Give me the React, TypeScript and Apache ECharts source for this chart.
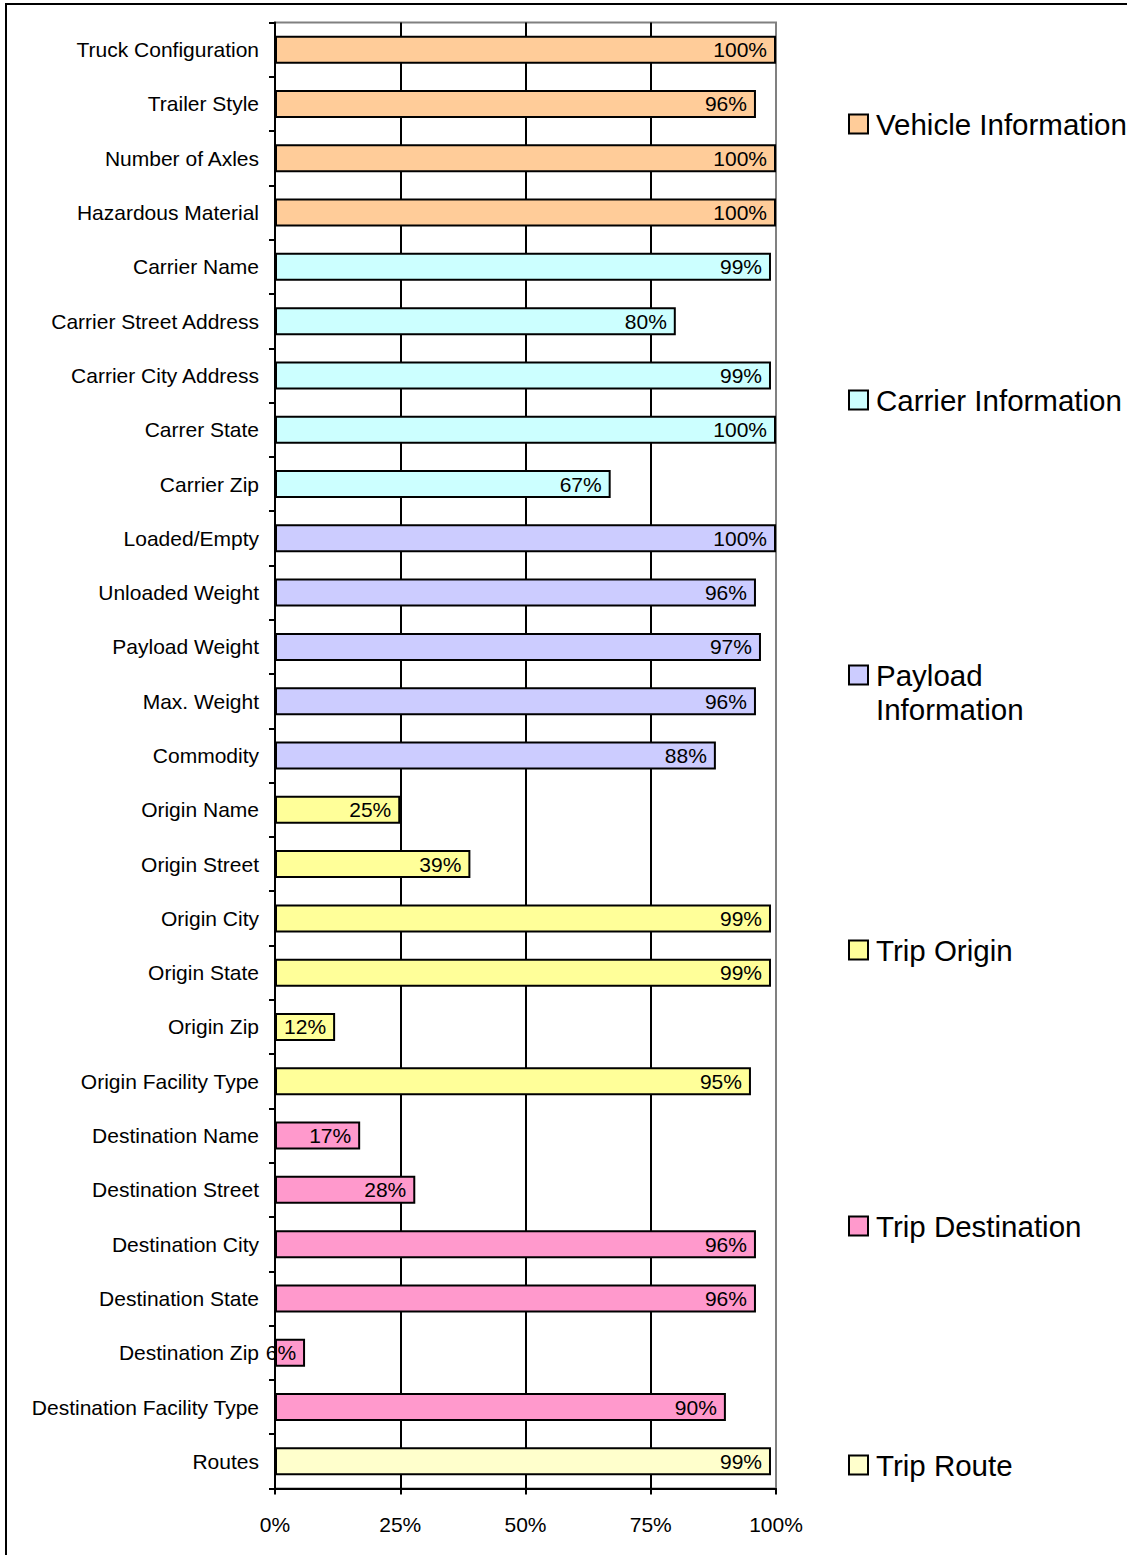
import React, { useEffect, useRef } from "react";
import * as echarts from "echarts";

const categories = [
  "Truck Configuration", "Trailer Style", "Number of Axles", "Hazardous Material",
  "Carrier Name", "Carrier Street Address", "Carrier City Address", "Carrer State", "Carrier Zip",
  "Loaded/Empty", "Unloaded Weight", "Payload Weight", "Max. Weight", "Commodity",
  "Origin Name", "Origin Street", "Origin City", "Origin State", "Origin Zip", "Origin Facility Type",
  "Destination Name", "Destination Street", "Destination City", "Destination State", "Destination Zip", "Destination Facility Type",
  "Routes",
];
const values = [
  100, 96, 100, 100,
  99, 80, 99, 100, 67,
  100, 96, 97, 96, 88,
  25, 39, 99, 99, 12, 95,
  17, 28, 96, 96, 6, 90,
  99,
];
const categoryGroup = [
  0, 0, 0, 0,
  1, 1, 1, 1, 1,
  2, 2, 2, 2, 2,
  3, 3, 3, 3, 3, 3,
  4, 4, 4, 4, 4, 4,
  5,
];
const groupNames = [
  "Vehicle Information", "Carrier Information", "Payload Information",
  "Trip Origin", "Trip Destination", "Trip Route",
];
const legendLabels = [
  "Vehicle Information", "Carrier Information", "Payload",
  "Trip Origin", "Trip Destination", "Trip Route",
];
const groupColors = ["#FFCC99", "#CCFFFF", "#CCCCFF", "#FFFF99", "#FF99CC", "#FFFFCC"];
const xTicks = [0, 25, 50, 75, 100];
const legendCenters = [125, 401, 676, 951, 1227, 1466];

export default function App() {
  const ref = useRef<HTMLDivElement>(null);
  useEffect(() => {
    document.body.style.margin = "0";
    const chart = echarts.init(ref.current!, null, { renderer: "svg" });
    const font = "'Liberation Sans', Arial, sans-serif";
    const series = groupNames.map((name, gi) => ({
      name,
      type: "bar",
      stack: "all",
      barWidth: 28,
      data: values.map((v, i) => (categoryGroup[i] === gi ? v : "-")),
      itemStyle: { color: groupColors[gi], borderColor: "#000", borderWidth: 2 },
      label: {
        show: true,
        position: "insideRight",
        distance: 9,
        formatter: (p: any) => `${p.value}%`,
        fontSize: 21,
        color: "#000",
        fontFamily: font,
      },
    }));
    const legends = groupNames.map((name, gi) => ({
      data: [name],
      left: 848,
      top: legendCenters[gi] - 16,
      padding: 0,
      icon: "rect",
      itemWidth: 19,
      itemHeight: 19,
      selectedMode: false,
      formatter: () => legendLabels[gi],
      textStyle: { fontSize: 29.5, color: "#000", fontFamily: font, padding: [0, 0, 0, 3] },
    }));
    chart.setOption({
      animation: false,
      textStyle: { fontFamily: font },
      graphic: [
        {
          type: "rect",
          shape: { x: 6, y: 4, width: 1300, height: 1700 },
          style: { fill: "none", stroke: "#000", lineWidth: 2 },
          silent: true,
        },
        {
          type: "text",
          left: 876,
          top: 694,
          style: { text: "Information", fontSize: 29.5, fill: "#000", fontFamily: font },
          silent: true,
        },
      ],
      legend: legends,
      grid: {
        left: 275,
        top: 22.5,
        width: 501,
        height: 1466,
        show: true,
        borderColor: "#808080",
        borderWidth: 2,
        containLabel: false,
      },
      xAxis: {
        type: "value",
        min: xTicks[0],
        max: xTicks[xTicks.length - 1],
        interval: 25,
        axisLine: { show: true, lineStyle: { color: "#000", width: 2 } },
        axisTick: { show: true, length: 6, lineStyle: { color: "#000", width: 2 } },
        axisLabel: { formatter: "{value}%", fontSize: 21, color: "#000", margin: 25 },
        splitLine: {
          show: true,
          showMinLine: false,
          showMaxLine: false,
          lineStyle: { color: "#000", width: 2 },
        },
      },
      yAxis: {
        type: "category",
        inverse: true,
        data: categories,
        axisLine: { show: true, lineStyle: { color: "#000", width: 2 } },
        axisTick: { show: true, length: 6, lineStyle: { color: "#000", width: 2 } },
        axisLabel: { fontSize: 21, color: "#000", margin: 16 },
        splitLine: { show: false },
      },
      series,
    });
    return () => chart.dispose();
  }, []);
  return <div ref={ref} style={{ width: 1127, height: 1555 }} />;
}
